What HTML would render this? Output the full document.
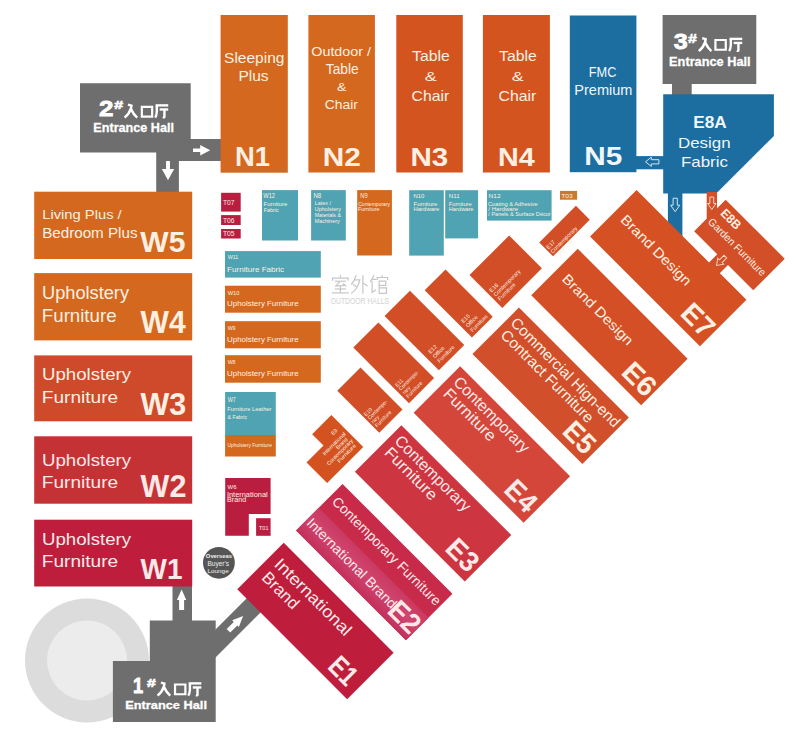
<!DOCTYPE html><html><head><meta charset="utf-8"><style>html,body{margin:0;padding:0;background:#fff;}svg{display:block;}text{font-family:"Liberation Sans",sans-serif;}</style></head><body>
<svg width="797" height="734" viewBox="0 0 797 734">
<rect width="797" height="734" fill="#ffffff"/>
<defs><linearGradient id="g2" x1="0" y1="0" x2="0" y2="1"><stop offset="0" stop-color="#cb3961"/><stop offset="0.45" stop-color="#d04570"/><stop offset="1" stop-color="#c3305a"/></linearGradient></defs>
<circle cx="87" cy="660.5" r="62" fill="#dcdcdc"/>
<circle cx="87" cy="660.5" r="40" fill="#ececec"/>
<polygon points="80,83.3 190.7,83.3 190.7,139 221,139 221,160.9 178.9,160.9 178.9,193 156.2,193 156.2,152.6 80,152.6" fill="#6e6e6e"/>
<polygon transform="translate(210.20,150.25) rotate(90)" points="0.00,0.00 5.15,10.00 1.65,10.00 1.65,17.20 -1.65,17.20 -1.65,10.00 -5.15,10.00" fill="#ffffff"/>
<polygon transform="translate(168.00,180.20) rotate(180)" points="0.00,0.00 6.15,11.10 1.95,11.10 1.95,19.20 -1.95,19.20 -1.95,11.10 -6.15,11.10" fill="#ffffff"/>
<text x="99.10" y="115.50" font-size="21.8" font-weight="bold" fill="#ffffff" text-anchor="start" textLength="14.44" lengthAdjust="spacingAndGlyphs" stroke="#ffffff" stroke-width="0.8">2</text>
<text x="114.33" y="108.80" font-size="11.77" font-weight="bold" fill="#ffffff" text-anchor="start" textLength="8.83" lengthAdjust="spacingAndGlyphs" stroke="#ffffff" stroke-width="0.6">#</text>
<g transform="translate(123.90,104.30) scale(0.1360)" fill="none" stroke="#ffffff" stroke-width="18.38" stroke-linecap="butt" stroke-linejoin="miter">
<path d="M30,2 L55,10 L52,30 Q40,70 5,98"/>
<path d="M52,35 Q70,75 98,98"/>
</g>
<g transform="translate(140.20,104.60) scale(0.1360)" fill="none" stroke="#ffffff" stroke-width="16.18" stroke-linecap="butt" stroke-linejoin="miter">
<path d="M12,16 L88,16 L88,88 L12,88 Z"/>
</g>
<g transform="translate(154.90,104.30) scale(0.1360)" fill="none" stroke="#ffffff" stroke-width="17.65" stroke-linecap="butt" stroke-linejoin="miter">
<path d="M5,8 L98,8"/>
<path d="M14,8 L14,55 Q12,85 2,98"/>
<path d="M35,38 L98,38"/>
<path d="M70,38 L70,92 Q70,98 58,94"/>
</g>
<text x="93.30" y="131.55" font-size="12.65" font-weight="bold" fill="#ffffff" text-anchor="start" textLength="80.74" lengthAdjust="spacingAndGlyphs" stroke="#ffffff" stroke-width="0.3">Entrance Hall</text>
<polygon points="662.6,14.9 756.3,14.9 756.3,83.9 691.7,83.9 691.7,95 672,95 672,83.9 662.6,83.9" fill="#6e6e6e"/>
<text x="673.82" y="49.10" font-size="22.82" font-weight="bold" fill="#ffffff" text-anchor="start" textLength="13.99" lengthAdjust="spacingAndGlyphs" stroke="#ffffff" stroke-width="0.8">3</text>
<text x="687.93" y="42.60" font-size="13.52" font-weight="bold" fill="#ffffff" text-anchor="start" textLength="8.83" lengthAdjust="spacingAndGlyphs" stroke="#ffffff" stroke-width="0.6">#</text>
<g transform="translate(698.10,37.80) scale(0.1360)" fill="none" stroke="#ffffff" stroke-width="18.38" stroke-linecap="butt" stroke-linejoin="miter">
<path d="M30,2 L55,10 L52,30 Q40,70 5,98"/>
<path d="M52,35 Q70,75 98,98"/>
</g>
<g transform="translate(713.80,37.80) scale(0.1360)" fill="none" stroke="#ffffff" stroke-width="16.18" stroke-linecap="butt" stroke-linejoin="miter">
<path d="M12,16 L88,16 L88,88 L12,88 Z"/>
</g>
<g transform="translate(728.90,37.80) scale(0.1360)" fill="none" stroke="#ffffff" stroke-width="17.65" stroke-linecap="butt" stroke-linejoin="miter">
<path d="M5,8 L98,8"/>
<path d="M14,8 L14,55 Q12,85 2,98"/>
<path d="M35,38 L98,38"/>
<path d="M70,38 L70,92 Q70,98 58,94"/>
</g>
<text x="669.10" y="65.85" font-size="13.08" font-weight="bold" fill="#ffffff" text-anchor="start" textLength="81.56" lengthAdjust="spacingAndGlyphs" stroke="#ffffff" stroke-width="0.3">Entrance Hall</text>
<polygon points="112.9,721.9 112.9,660.9 149.8,660.9 149.8,620.4 172.5,620.4 172.5,585 192,585 192,620.4 215.7,620.4 215.7,721.9" fill="#6e6e6e"/>
<polygon points="187.50,657.50 257.50,587.50 271.50,601.50 201.50,671.50" fill="#6e6e6e"/>
<polygon transform="translate(181.60,589.40) rotate(0)" points="0.00,0.00 4.70,10.70 2.50,10.70 2.50,20.70 -2.50,20.70 -2.50,10.70 -4.70,10.70" fill="#ffffff"/>
<polygon transform="translate(243.10,616.10) rotate(45)" points="0.00,0.00 4.70,10.70 2.50,10.70 2.50,20.70 -2.50,20.70 -2.50,10.70 -4.70,10.70" fill="#ffffff"/>
<text x="133.05" y="693.20" font-size="21.22" font-weight="bold" fill="#ffffff" text-anchor="start" textLength="10.16" lengthAdjust="spacingAndGlyphs" stroke="#ffffff" stroke-width="0.8">1</text>
<text x="146.93" y="687.00" font-size="11.77" font-weight="bold" fill="#ffffff" text-anchor="start" textLength="8.83" lengthAdjust="spacingAndGlyphs" stroke="#ffffff" stroke-width="0.6">#</text>
<g transform="translate(156.90,682.30) scale(0.1360)" fill="none" stroke="#ffffff" stroke-width="18.38" stroke-linecap="butt" stroke-linejoin="miter">
<path d="M30,2 L55,10 L52,30 Q40,70 5,98"/>
<path d="M52,35 Q70,75 98,98"/>
</g>
<g transform="translate(173.40,682.30) scale(0.1360)" fill="none" stroke="#ffffff" stroke-width="16.18" stroke-linecap="butt" stroke-linejoin="miter">
<path d="M12,16 L88,16 L88,88 L12,88 Z"/>
</g>
<g transform="translate(188.00,682.30) scale(0.1360)" fill="none" stroke="#ffffff" stroke-width="17.65" stroke-linecap="butt" stroke-linejoin="miter">
<path d="M5,8 L98,8"/>
<path d="M14,8 L14,55 Q12,85 2,98"/>
<path d="M35,38 L98,38"/>
<path d="M70,38 L70,92 Q70,98 58,94"/>
</g>
<text x="125.19" y="708.75" font-size="11.34" font-weight="bold" fill="#ffffff" text-anchor="start" textLength="81.76" lengthAdjust="spacingAndGlyphs" stroke="#ffffff" stroke-width="0.3">Entrance Hall</text>
<rect x="220.60" y="15.00" width="67.20" height="157.70" fill="#d4681e"/>
<text x="224.10" y="62.50" font-size="14.86" font-weight="normal" fill="#fdf0e2" text-anchor="start" textLength="60.3" lengthAdjust="spacingAndGlyphs">Sleeping</text>
<text x="238.42" y="81.10" font-size="15.14" font-weight="normal" fill="#fdf0e2" text-anchor="start" textLength="30.24" lengthAdjust="spacingAndGlyphs">Plus</text>
<text x="234.96" y="166.40" font-size="26.89" font-weight="bold" fill="#fdf0e2" text-anchor="start" textLength="35.1" lengthAdjust="spacingAndGlyphs">N1</text>
<rect x="308.40" y="15.00" width="66.50" height="157.50" fill="#d4681e"/>
<text x="311.32" y="56.10" font-size="13.23" font-weight="normal" fill="#fdf0e2" text-anchor="start" textLength="59.58" lengthAdjust="spacingAndGlyphs">Outdoor /</text>
<text x="325.80" y="73.70" font-size="13.95" font-weight="normal" fill="#fdf0e2" text-anchor="start" textLength="32.98" lengthAdjust="spacingAndGlyphs">Table</text>
<text x="337.00" y="91.20" font-size="11.63" font-weight="normal" fill="#fdf0e2" text-anchor="start" textLength="9.42" lengthAdjust="spacingAndGlyphs">&amp;</text>
<text x="324.80" y="108.90" font-size="13.23" font-weight="normal" fill="#fdf0e2" text-anchor="start" textLength="33.03" lengthAdjust="spacingAndGlyphs">Chair</text>
<text x="322.71" y="165.50" font-size="24.86" font-weight="bold" fill="#fdf0e2" text-anchor="start" textLength="38.09" lengthAdjust="spacingAndGlyphs">N2</text>
<rect x="396.30" y="15.00" width="66.50" height="157.50" fill="#d4541f"/>
<text x="412.06" y="60.50" font-size="15.26" font-weight="normal" fill="#fdf0e2" text-anchor="start" textLength="37.71" lengthAdjust="spacingAndGlyphs">Table</text>
<text x="424.87" y="81.20" font-size="13.23" font-weight="normal" fill="#fdf0e2" text-anchor="start" textLength="11.91" lengthAdjust="spacingAndGlyphs">&amp;</text>
<text x="411.60" y="101.20" font-size="14.54" font-weight="normal" fill="#fdf0e2" text-anchor="start" textLength="37.76" lengthAdjust="spacingAndGlyphs">Chair</text>
<text x="410.42" y="165.50" font-size="24.86" font-weight="bold" fill="#fdf0e2" text-anchor="start" textLength="37.74" lengthAdjust="spacingAndGlyphs">N3</text>
<rect x="482.90" y="15.00" width="67.00" height="157.50" fill="#d4541f"/>
<text x="499.06" y="60.50" font-size="15.26" font-weight="normal" fill="#fdf0e2" text-anchor="start" textLength="37.71" lengthAdjust="spacingAndGlyphs">Table</text>
<text x="511.87" y="81.20" font-size="13.23" font-weight="normal" fill="#fdf0e2" text-anchor="start" textLength="11.91" lengthAdjust="spacingAndGlyphs">&amp;</text>
<text x="498.60" y="101.20" font-size="14.54" font-weight="normal" fill="#fdf0e2" text-anchor="start" textLength="37.76" lengthAdjust="spacingAndGlyphs">Chair</text>
<text x="498.08" y="165.50" font-size="24.86" font-weight="bold" fill="#fdf0e2" text-anchor="start" textLength="36.78" lengthAdjust="spacingAndGlyphs">N4</text>
<rect x="569.80" y="15.50" width="66.60" height="156.70" fill="#1b6e9f"/>
<text x="588.75" y="76.70" font-size="13.81" font-weight="normal" fill="#f0f6fa" text-anchor="start" textLength="27.63" lengthAdjust="spacingAndGlyphs">FMC</text>
<text x="574.31" y="94.70" font-size="13.97" font-weight="normal" fill="#f0f6fa" text-anchor="start" textLength="58.15" lengthAdjust="spacingAndGlyphs">Premium</text>
<text x="584.21" y="164.90" font-size="25.29" font-weight="bold" fill="#f0f6fa" text-anchor="start" textLength="38.02" lengthAdjust="spacingAndGlyphs">N5</text>
<rect x="636.00" y="156.10" width="28.00" height="13.20" fill="#1b6e9f"/>
<polygon transform="translate(645.50,161.80) rotate(-90)" points="0.00,0.00 4.60,5.80 2.10,5.80 2.10,13.40 -2.10,13.40 -2.10,5.80 -4.60,5.80" fill="none" stroke="#cfe6f2" stroke-width="1.0"/>
<polygon points="663.2,94.3 773.9,94.3 773.9,135.9 716.2,193.4 663.2,193.4" fill="#1b6e9f"/>
<text x="693.25" y="128.10" font-size="17.15" font-weight="bold" fill="#f0f6fa" text-anchor="start" textLength="33.4" lengthAdjust="spacingAndGlyphs">E8A</text>
<text x="677.91" y="147.70" font-size="14.58" font-weight="normal" fill="#f0f6fa" text-anchor="start" textLength="52.69" lengthAdjust="spacingAndGlyphs">Design</text>
<text x="680.91" y="166.50" font-size="15.0" font-weight="normal" fill="#f0f6fa" text-anchor="start" textLength="47.04" lengthAdjust="spacingAndGlyphs">Fabric</text>
<rect x="667.90" y="192.00" width="14.50" height="48.00" fill="#1b6e9f"/>
<polygon transform="translate(675.20,211.70) rotate(180)" points="0.00,0.00 4.60,6.50 2.10,6.50 2.10,13.50 -2.10,13.50 -2.10,6.50 -4.60,6.50" fill="none" stroke="#cfe6f2" stroke-width="1.0"/>
<rect x="706.70" y="192.00" width="10.30" height="30.00" fill="#d24f27"/>
<polygon transform="translate(711.80,209.50) rotate(180)" points="0.00,0.00 4.20,6.00 1.90,6.00 1.90,12.50 -1.90,12.50 -1.90,6.00 -4.20,6.00" fill="none" stroke="#f6d5c0" stroke-width="1.0"/>
<rect x="34.20" y="191.70" width="158.00" height="67.30" fill="#d4681e"/>
<text x="42.19" y="219.10" font-size="13.52" font-weight="normal" fill="#fdf0e2" text-anchor="start" textLength="79.51" lengthAdjust="spacingAndGlyphs">Living Plus /</text>
<text x="42.15" y="237.80" font-size="14.51" font-weight="normal" fill="#fdf0e2" text-anchor="start" textLength="95.39" lengthAdjust="spacingAndGlyphs">Bedroom Plus</text>
<text x="140.37" y="252.20" font-size="29.8" font-weight="bold" fill="#fdf0e2" text-anchor="start" textLength="45.07" lengthAdjust="spacingAndGlyphs">W5</text>
<rect x="34.20" y="273.10" width="158.00" height="67.30" fill="#d4681e"/>
<text x="42.00" y="299.10" font-size="18.19" font-weight="normal" fill="#fdf0e2" text-anchor="start" textLength="87.04" lengthAdjust="spacingAndGlyphs">Upholstery</text>
<text x="41.87" y="322.20" font-size="18.19" font-weight="normal" fill="#fdf0e2" text-anchor="start" textLength="74.66" lengthAdjust="spacingAndGlyphs">Furniture</text>
<text x="140.57" y="333.20" font-size="30.67" font-weight="bold" fill="#fdf0e2" text-anchor="start" textLength="45.19" lengthAdjust="spacingAndGlyphs">W4</text>
<rect x="34.20" y="355.40" width="158.00" height="65.90" fill="#ce4a2b"/>
<text x="41.96" y="380.10" font-size="17.36" font-weight="normal" fill="#fdf0e2" text-anchor="start" textLength="89.07" lengthAdjust="spacingAndGlyphs">Upholstery</text>
<text x="41.84" y="402.80" font-size="17.36" font-weight="normal" fill="#fdf0e2" text-anchor="start" textLength="76.31" lengthAdjust="spacingAndGlyphs">Furniture</text>
<text x="140.57" y="414.60" font-size="31.25" font-weight="bold" fill="#fdf0e2" text-anchor="start" textLength="45.73" lengthAdjust="spacingAndGlyphs">W3</text>
<rect x="34.20" y="436.30" width="158.00" height="67.40" fill="#c53235"/>
<text x="41.96" y="465.50" font-size="16.11" font-weight="normal" fill="#fde9e8" text-anchor="start" textLength="89.07" lengthAdjust="spacingAndGlyphs">Upholstery</text>
<text x="41.84" y="488.00" font-size="16.11" font-weight="normal" fill="#fde9e8" text-anchor="start" textLength="76.31" lengthAdjust="spacingAndGlyphs">Furniture</text>
<text x="140.57" y="496.80" font-size="31.54" font-weight="bold" fill="#fde9e8" text-anchor="start" textLength="45.85" lengthAdjust="spacingAndGlyphs">W2</text>
<rect x="34.20" y="519.70" width="158.00" height="66.80" fill="#be1e3c"/>
<text x="41.96" y="544.60" font-size="16.11" font-weight="normal" fill="#fde9e8" text-anchor="start" textLength="89.07" lengthAdjust="spacingAndGlyphs">Upholstery</text>
<text x="41.84" y="567.10" font-size="16.11" font-weight="normal" fill="#fde9e8" text-anchor="start" textLength="76.31" lengthAdjust="spacingAndGlyphs">Furniture</text>
<text x="140.57" y="578.90" font-size="30.23" font-weight="bold" fill="#fde9e8" text-anchor="start" textLength="41.9" lengthAdjust="spacingAndGlyphs">W1</text>
<rect x="221.10" y="192.80" width="19.60" height="18.80" fill="#b91e40"/>
<text x="222.95" y="205.30" font-size="7.12" font-weight="normal" fill="#fdf0e2" text-anchor="start" textLength="11.59" lengthAdjust="spacingAndGlyphs">T07</text>
<rect x="221.10" y="215.10" width="19.60" height="9.90" fill="#b91e40"/>
<text x="222.95" y="222.80" font-size="6.83" font-weight="normal" fill="#fdf0e2" text-anchor="start" textLength="11.54" lengthAdjust="spacingAndGlyphs">T06</text>
<rect x="221.10" y="229.00" width="19.60" height="9.50" fill="#b91e40"/>
<text x="222.95" y="236.40" font-size="7.12" font-weight="normal" fill="#fdf0e2" text-anchor="start" textLength="11.53" lengthAdjust="spacingAndGlyphs">T05</text>
<rect x="262.00" y="190.10" width="36.00" height="50.40" fill="#50a3b3"/>
<text x="263.27" y="198.20" font-size="6.4" font-weight="normal" fill="#fdf0e2" text-anchor="start" textLength="11.71" lengthAdjust="spacingAndGlyphs">W12</text>
<text x="263.62" y="206.10" font-size="5.96" font-weight="normal" fill="#fdf0e2" text-anchor="start" textLength="23.65" lengthAdjust="spacingAndGlyphs">Furniture</text>
<text x="263.65" y="211.90" font-size="5.96" font-weight="normal" fill="#fdf0e2" text-anchor="start" textLength="15.19" lengthAdjust="spacingAndGlyphs">Fabric</text>
<rect x="311.10" y="190.10" width="34.70" height="50.40" fill="#50a3b3"/>
<text x="313.40" y="198.20" font-size="6.4" font-weight="normal" fill="#fdf0e2" text-anchor="start" textLength="7.76" lengthAdjust="spacingAndGlyphs">N8</text>
<text x="314.66" y="204.70" font-size="5.09" font-weight="normal" fill="#fdf0e2" text-anchor="start" textLength="16.24" lengthAdjust="spacingAndGlyphs">Latex /</text>
<text x="314.68" y="210.50" font-size="5.09" font-weight="normal" fill="#fdf0e2" text-anchor="start" textLength="26.23" lengthAdjust="spacingAndGlyphs">Upholstery</text>
<text x="314.67" y="216.60" font-size="5.52" font-weight="normal" fill="#fdf0e2" text-anchor="start" textLength="26.31" lengthAdjust="spacingAndGlyphs">Materials &amp;</text>
<text x="314.65" y="222.80" font-size="5.09" font-weight="normal" fill="#fdf0e2" text-anchor="start" textLength="25.06" lengthAdjust="spacingAndGlyphs">Machinery</text>
<rect x="357.20" y="190.10" width="34.70" height="65.40" fill="#d4681e"/>
<text x="360.34" y="198.20" font-size="6.4" font-weight="normal" fill="#fdf0e2" text-anchor="start" textLength="7.23" lengthAdjust="spacingAndGlyphs">N9</text>
<text x="358.24" y="205.70" font-size="4.51" font-weight="normal" fill="#fdf0e2" text-anchor="start" textLength="31.87" lengthAdjust="spacingAndGlyphs">Contemporary</text>
<text x="358.06" y="211.00" font-size="4.65" font-weight="normal" fill="#fdf0e2" text-anchor="start" textLength="21.38" lengthAdjust="spacingAndGlyphs">Furniture</text>
<rect x="409.20" y="190.20" width="34.60" height="65.40" fill="#50a3b3"/>
<text x="413.52" y="197.80" font-size="5.23" font-weight="normal" fill="#fdf0e2" text-anchor="start" textLength="10.81" lengthAdjust="spacingAndGlyphs">N10</text>
<text x="413.51" y="205.60" font-size="4.8" font-weight="normal" fill="#fdf0e2" text-anchor="start" textLength="23.85" lengthAdjust="spacingAndGlyphs">Furniture</text>
<text x="413.51" y="210.90" font-size="5.23" font-weight="normal" fill="#fdf0e2" text-anchor="start" textLength="25.85" lengthAdjust="spacingAndGlyphs">Hardware</text>
<rect x="445.20" y="190.20" width="32.90" height="48.20" fill="#50a3b3"/>
<text x="448.71" y="197.80" font-size="5.23" font-weight="normal" fill="#fdf0e2" text-anchor="start" textLength="10.88" lengthAdjust="spacingAndGlyphs">N11</text>
<text x="448.73" y="205.60" font-size="4.8" font-weight="normal" fill="#fdf0e2" text-anchor="start" textLength="23.03" lengthAdjust="spacingAndGlyphs">Furniture</text>
<text x="448.73" y="210.90" font-size="5.23" font-weight="normal" fill="#fdf0e2" text-anchor="start" textLength="24.82" lengthAdjust="spacingAndGlyphs">Hardware</text>
<rect x="487.00" y="190.20" width="64.60" height="30.40" fill="#50a3b3"/>
<text x="488.56" y="198.10" font-size="6.25" font-weight="normal" fill="#fdf0e2" text-anchor="start" textLength="12.18" lengthAdjust="spacingAndGlyphs">N12</text>
<text x="488.01" y="205.80" font-size="5.09" font-weight="normal" fill="#fdf0e2" text-anchor="start" textLength="49.74" lengthAdjust="spacingAndGlyphs">Coating &amp; Adhesive</text>
<text x="488.30" y="210.60" font-size="5.09" font-weight="normal" fill="#fdf0e2" text-anchor="start" textLength="29.87" lengthAdjust="spacingAndGlyphs">/ Hardware</text>
<text x="488.30" y="215.60" font-size="5.09" font-weight="normal" fill="#fdf0e2" text-anchor="start" textLength="62.39" lengthAdjust="spacingAndGlyphs">/ Panels &amp; Surface Décor</text>
<rect x="560.00" y="190.90" width="17.10" height="8.80" fill="#c97a2e"/>
<text x="561.15" y="197.90" font-size="6.1" font-weight="normal" fill="#fdf0e2" text-anchor="start" textLength="11.44" lengthAdjust="spacingAndGlyphs">T03</text>
<rect x="225.00" y="251.10" width="95.80" height="26.50" fill="#50a3b3"/>
<text x="227.68" y="259.30" font-size="5.52" font-weight="normal" fill="#fdf0e2" text-anchor="start" textLength="10.57" lengthAdjust="spacingAndGlyphs">W11</text>
<text x="227.06" y="271.90" font-size="7.7" font-weight="normal" fill="#fdf0e2" text-anchor="start" textLength="57.04" lengthAdjust="spacingAndGlyphs">Furniture  Fabric</text>
<rect x="225.00" y="285.70" width="95.80" height="27.00" fill="#d4681e"/>
<text x="227.68" y="294.70" font-size="5.23" font-weight="normal" fill="#fdf0e2" text-anchor="start" textLength="11.65" lengthAdjust="spacingAndGlyphs">W10</text>
<text x="227.09" y="306.20" font-size="7.7" font-weight="normal" fill="#fdf0e2" text-anchor="start" textLength="71.56" lengthAdjust="spacingAndGlyphs">Upholstery Furniture</text>
<rect x="225.00" y="321.20" width="95.80" height="27.10" fill="#d4681e"/>
<text x="227.68" y="330.20" font-size="5.23" font-weight="normal" fill="#fdf0e2" text-anchor="start" textLength="7.87" lengthAdjust="spacingAndGlyphs">W9</text>
<text x="227.09" y="341.70" font-size="7.7" font-weight="normal" fill="#fdf0e2" text-anchor="start" textLength="71.56" lengthAdjust="spacingAndGlyphs">Upholstery Furniture</text>
<rect x="225.00" y="355.20" width="95.80" height="27.50" fill="#d4681e"/>
<text x="227.68" y="364.20" font-size="5.23" font-weight="normal" fill="#fdf0e2" text-anchor="start" textLength="7.85" lengthAdjust="spacingAndGlyphs">W8</text>
<text x="227.09" y="375.70" font-size="7.7" font-weight="normal" fill="#fdf0e2" text-anchor="start" textLength="71.56" lengthAdjust="spacingAndGlyphs">Upholstery Furniture</text>
<rect x="225.10" y="392.00" width="50.70" height="43.00" fill="#50a3b3"/>
<rect x="225.10" y="435.00" width="50.70" height="21.50" fill="#d4681e"/>
<text x="227.78" y="401.80" font-size="6.54" font-weight="normal" fill="#fdf0e2" text-anchor="start" textLength="8.1" lengthAdjust="spacingAndGlyphs">W7</text>
<text x="227.33" y="410.90" font-size="5.96" font-weight="normal" fill="#fdf0e2" text-anchor="start" textLength="44.17" lengthAdjust="spacingAndGlyphs">Furniture Leather</text>
<text x="227.62" y="418.80" font-size="5.96" font-weight="normal" fill="#fdf0e2" text-anchor="start" textLength="19.42" lengthAdjust="spacingAndGlyphs">&amp; Fabric</text>
<text x="227.42" y="447.00" font-size="5.09" font-weight="normal" fill="#fdf0e2" text-anchor="start" textLength="44.5" lengthAdjust="spacingAndGlyphs">Upholstery Furniture</text>
<polygon points="225.2,478.1 270.6,478.1 270.6,513.9 248.8,513.9 248.8,535.8 225.2,535.8" fill="#b91e40"/>
<rect x="256.10" y="518.20" width="14.50" height="17.60" fill="#b91e40"/>
<text x="227.57" y="488.60" font-size="5.52" font-weight="normal" fill="#fdf0e2" text-anchor="start" textLength="8.89" lengthAdjust="spacingAndGlyphs">W6</text>
<text x="226.92" y="496.70" font-size="6.69" font-weight="normal" fill="#fdf0e2" text-anchor="start" textLength="40.78" lengthAdjust="spacingAndGlyphs">International</text>
<text x="227.01" y="502.40" font-size="6.54" font-weight="normal" fill="#fdf0e2" text-anchor="start" textLength="19.26" lengthAdjust="spacingAndGlyphs">Brand</text>
<text x="258.98" y="529.60" font-size="5.52" font-weight="normal" fill="#fdf0e2" text-anchor="start" textLength="9.49" lengthAdjust="spacingAndGlyphs">T01</text>
<circle cx="218.9" cy="562.8" r="15.9" fill="#555555"/>
<text x="205.86" y="557.90" font-size="5.52" font-weight="bold" fill="#f0f0f0" text-anchor="start" textLength="26.18" lengthAdjust="spacingAndGlyphs">Overseas</text>
<text x="207.47" y="565.80" font-size="6.54" font-weight="normal" fill="#f0f0f0" text-anchor="start" textLength="21.47" lengthAdjust="spacingAndGlyphs">Buyer's</text>
<text x="207.48" y="573.00" font-size="6.25" font-weight="normal" fill="#f0f0f0" text-anchor="start" textLength="21.2" lengthAdjust="spacingAndGlyphs">Lounge</text>
<g transform="translate(331.10,275.30) scale(0.1850)" fill="none" stroke="#c6c6c6" stroke-width="6.49" stroke-linecap="butt" stroke-linejoin="miter">
<path d="M50,0 L50,12"/>
<path d="M8,30 L8,15 L92,15 L92,30"/>
<path d="M20,32 L80,32"/>
<path d="M48,34 L25,58 L80,54"/>
<path d="M62,44 L82,60"/>
<path d="M50,58 L50,95"/>
<path d="M20,74 L80,74"/>
<path d="M5,95 L95,95"/>
</g>
<g transform="translate(350.30,275.30) scale(0.1850)" fill="none" stroke="#c6c6c6" stroke-width="6.49" stroke-linecap="butt" stroke-linejoin="miter">
<path d="M32,0 Q22,30 5,50"/>
<path d="M22,25 L52,25 Q40,75 5,98"/>
<path d="M14,48 L34,62"/>
<path d="M68,0 L68,100"/>
<path d="M68,42 L94,58"/>
</g>
<g transform="translate(369.50,275.30) scale(0.1850)" fill="none" stroke="#c6c6c6" stroke-width="6.49" stroke-linecap="butt" stroke-linejoin="miter">
<path d="M24,0 Q15,22 3,35"/>
<path d="M14,22 L38,22"/>
<path d="M14,30 L14,92 L36,78"/>
<path d="M68,0 L68,10"/>
<path d="M42,26 L42,12 L98,12 L98,26"/>
<path d="M52,30 L52,100"/>
<path d="M52,32 L88,32 L88,55 L52,55"/>
<path d="M52,68 L92,68 L92,98 L52,98"/>
</g>
<text x="330.68" y="303.80" font-size="8.29" font-weight="normal" fill="#d2d2d2" text-anchor="start" textLength="58.34" lengthAdjust="spacingAndGlyphs">OUTDOOR HALLS</text>
<polygon points="708.75,262.75 717.75,253.75 728.50,264.50 719.50,273.50" fill="#d24f27"/>
<g transform="translate(283.75,542.75) rotate(45)">
<rect x="0" y="0" width="155.42" height="65.76" fill="#bf1d3c"/>
</g>
<g transform="translate(283.75,542.75) rotate(45)">
<text x="8.50" y="23.20" font-size="16.72" font-weight="normal" fill="#fde9e8" text-anchor="start" textLength="101.33" lengthAdjust="spacingAndGlyphs">International</text>
</g>
<g transform="translate(283.75,542.75) rotate(45)">
<text x="9.02" y="41.50" font-size="16.72" font-weight="normal" fill="#fde9e8" text-anchor="start" textLength="44.97" lengthAdjust="spacingAndGlyphs">Brand</text>
</g>
<g transform="translate(283.75,542.75) rotate(45)">
<text x="118.47" y="58.20" font-size="28.49" font-weight="bold" fill="#fde9e8" text-anchor="start" textLength="27.97" lengthAdjust="spacingAndGlyphs">E1</text>
</g>
<g transform="translate(342.55,483.95) rotate(45)">
<rect x="0" y="0" width="155.42" height="65.76" fill="#c82b4a"/>
<rect x="0" y="33.66" width="155.42" height="32.10" fill="url(#g2)"/>
</g>
<g transform="translate(342.55,483.95) rotate(45)">
<text x="5.20" y="21.00" font-size="13.95" font-weight="normal" fill="#fde9e8" text-anchor="start" textLength="147.02" lengthAdjust="spacingAndGlyphs">Contemporary Furniture</text>
</g>
<g transform="translate(342.55,483.95) rotate(45)">
<text x="2.08" y="54.30" font-size="13.95" font-weight="normal" fill="#fde9e8" text-anchor="start" textLength="121.05" lengthAdjust="spacingAndGlyphs">International Brand</text>
</g>
<g transform="translate(342.55,483.95) rotate(45)">
<text x="121.18" y="59.75" font-size="28.49" font-weight="bold" fill="#fde9e8" text-anchor="start" textLength="33.2" lengthAdjust="spacingAndGlyphs">E2</text>
</g>
<g transform="translate(401.35,425.15) rotate(45)">
<rect x="0" y="0" width="155.42" height="65.76" fill="#cd3541"/>
</g>
<g transform="translate(401.35,425.15) rotate(45)">
<text x="6.30" y="17.20" font-size="15.99" font-weight="normal" fill="#fde9e8" text-anchor="start" textLength="100.23" lengthAdjust="spacingAndGlyphs">Contemporary</text>
</g>
<g transform="translate(401.35,425.15) rotate(45)">
<text x="7.42" y="32.80" font-size="15.99" font-weight="normal" fill="#fde9e8" text-anchor="start" textLength="67.43" lengthAdjust="spacingAndGlyphs">Furniture</text>
</g>
<g transform="translate(401.35,425.15) rotate(45)">
<text x="118.15" y="58.20" font-size="28.49" font-weight="bold" fill="#fde9e8" text-anchor="start" textLength="33.85" lengthAdjust="spacingAndGlyphs">E3</text>
</g>
<g transform="translate(460.15,366.35) rotate(45)">
<rect x="0" y="0" width="155.42" height="65.76" fill="#d4453a"/>
</g>
<g transform="translate(460.15,366.35) rotate(45)">
<text x="6.30" y="17.20" font-size="15.99" font-weight="normal" fill="#fde9e8" text-anchor="start" textLength="100.23" lengthAdjust="spacingAndGlyphs">Contemporary</text>
</g>
<g transform="translate(460.15,366.35) rotate(45)">
<text x="7.42" y="32.80" font-size="15.99" font-weight="normal" fill="#fde9e8" text-anchor="start" textLength="67.43" lengthAdjust="spacingAndGlyphs">Furniture</text>
</g>
<g transform="translate(460.15,366.35) rotate(45)">
<text x="118.20" y="58.20" font-size="28.49" font-weight="bold" fill="#fde9e8" text-anchor="start" textLength="32.95" lengthAdjust="spacingAndGlyphs">E4</text>
</g>
<g transform="translate(518.95,307.55) rotate(45)">
<rect x="0" y="0" width="155.42" height="65.76" fill="#d24f2c"/>
</g>
<g transform="translate(518.95,307.55) rotate(45)">
<text x="4.92" y="18.10" font-size="15.26" font-weight="normal" fill="#fdf0e2" text-anchor="start" textLength="147.76" lengthAdjust="spacingAndGlyphs">Commercial Hign-end</text>
</g>
<g transform="translate(518.95,307.55) rotate(45)">
<text x="6.52" y="33.60" font-size="15.26" font-weight="normal" fill="#fdf0e2" text-anchor="start" textLength="124.27" lengthAdjust="spacingAndGlyphs">Contract Furniture</text>
</g>
<g transform="translate(518.95,307.55) rotate(45)">
<text x="118.20" y="58.70" font-size="28.49" font-weight="bold" fill="#fdf0e2" text-anchor="start" textLength="32.84" lengthAdjust="spacingAndGlyphs">E5</text>
</g>
<g transform="translate(577.75,248.75) rotate(45)">
<rect x="0" y="0" width="155.42" height="65.76" fill="#d44f25"/>
</g>
<g transform="translate(577.75,248.75) rotate(45)">
<text x="10.13" y="33.60" font-size="13.95" font-weight="normal" fill="#fdf0e2" text-anchor="start" textLength="93.98" lengthAdjust="spacingAndGlyphs">Brand Design</text>
</g>
<g transform="translate(577.75,248.75) rotate(45)">
<text x="118.07" y="58.20" font-size="28.49" font-weight="bold" fill="#fdf0e2" text-anchor="start" textLength="35.27" lengthAdjust="spacingAndGlyphs">E6</text>
</g>
<g transform="translate(636.55,189.95) rotate(45)">
<rect x="0" y="0" width="155.42" height="65.76" fill="#d55023"/>
</g>
<g transform="translate(636.55,189.95) rotate(45)">
<text x="9.74" y="33.60" font-size="13.95" font-weight="normal" fill="#fdf0e2" text-anchor="start" textLength="93.36" lengthAdjust="spacingAndGlyphs">Brand Design</text>
</g>
<g transform="translate(636.55,189.95) rotate(45)">
<text x="118.10" y="58.20" font-size="28.49" font-weight="bold" fill="#fdf0e2" text-anchor="start" textLength="34.75" lengthAdjust="spacingAndGlyphs">E7</text>
</g>
<g transform="translate(725.65,199.65) rotate(45)">
<rect x="0" y="0" width="83.58" height="44.55" fill="#d24f27"/>
</g>
<g transform="translate(725.65,199.65) rotate(45)">
<text x="5.96" y="14.40" font-size="12.65" font-weight="bold" fill="#fdf0e2" text-anchor="start" textLength="22.98" lengthAdjust="spacingAndGlyphs">E8B</text>
<text x="3.19" y="29.10" font-size="10.61" font-weight="normal" fill="#fdf0e2" text-anchor="start" textLength="76.86" lengthAdjust="spacingAndGlyphs">Garden Furniture</text>
</g>
<polygon transform="translate(716.50,265.50) rotate(225)" points="0.00,0.00 4.20,6.00 1.90,6.00 1.90,12.50 -1.90,12.50 -1.90,6.00 -4.20,6.00" fill="none" stroke="#f6d5c0" stroke-width="1.0"/>
<g transform="translate(360.50,367.50) rotate(45)">
<rect x="0" y="0" width="59.40" height="32.88" fill="#d24e26"/>
</g>
<g transform="translate(365.97,416.40) rotate(-45)">
<text x="0.00" y="0.00" font-size="5.2" font-weight="normal" fill="#fdf0e2" text-anchor="start">E10</text>
<text x="0.00" y="5.20" font-size="5.2" font-weight="normal" fill="#fdf0e2" text-anchor="start">Contempo-</text>
<text x="0.00" y="10.40" font-size="5.2" font-weight="normal" fill="#fdf0e2" text-anchor="start">rary</text>
<text x="0.00" y="15.60" font-size="5.2" font-weight="normal" fill="#fdf0e2" text-anchor="start">Furniture</text>
</g>
<g transform="translate(378.40,322.40) rotate(45)">
<rect x="0" y="0" width="78.77" height="35.50" fill="#d24e26"/>
</g>
<g transform="translate(397.17,387.20) rotate(-45)">
<text x="0.00" y="0.00" font-size="5.2" font-weight="normal" fill="#fdf0e2" text-anchor="start">E11</text>
<text x="0.00" y="5.20" font-size="5.2" font-weight="normal" fill="#fdf0e2" text-anchor="start">Contempo-</text>
<text x="0.00" y="10.40" font-size="5.2" font-weight="normal" fill="#fdf0e2" text-anchor="start">rary</text>
<text x="0.00" y="15.60" font-size="5.2" font-weight="normal" fill="#fdf0e2" text-anchor="start">Furniture</text>
</g>
<g transform="translate(409.95,290.65) rotate(45)">
<rect x="0" y="0" width="76.79" height="35.92" fill="#d24e26"/>
</g>
<g transform="translate(430.38,354.03) rotate(-45)">
<text x="0.00" y="0.00" font-size="5.5" font-weight="normal" fill="#fdf0e2" text-anchor="start">E12</text>
<text x="0.00" y="6.40" font-size="5.5" font-weight="normal" fill="#fdf0e2" text-anchor="start">Office</text>
<text x="0.00" y="12.80" font-size="5.5" font-weight="normal" fill="#fdf0e2" text-anchor="start">Furniture</text>
</g>
<g transform="translate(445.50,269.50) rotate(45)">
<rect x="0" y="0" width="66.82" height="29.42" fill="#d24e26"/>
</g>
<g transform="translate(463.48,323.23) rotate(-45)">
<text x="0.00" y="0.00" font-size="5.5" font-weight="normal" fill="#fdf0e2" text-anchor="start">E15</text>
<text x="0.00" y="6.40" font-size="5.5" font-weight="normal" fill="#fdf0e2" text-anchor="start">Office</text>
<text x="0.00" y="12.80" font-size="5.5" font-weight="normal" fill="#fdf0e2" text-anchor="start">Furniture</text>
</g>
<g transform="translate(509.10,235.50) rotate(45)">
<rect x="0" y="0" width="46.39" height="56.00" fill="#d24e26"/>
</g>
<g transform="translate(491.60,292.50) rotate(-45)">
<text x="0.00" y="0.00" font-size="5.6" font-weight="normal" fill="#fdf0e2" text-anchor="start">E16</text>
<text x="0.00" y="6.00" font-size="5.6" font-weight="normal" fill="#fdf0e2" text-anchor="start">Contemporary</text>
<text x="0.00" y="12.00" font-size="5.6" font-weight="normal" fill="#fdf0e2" text-anchor="start">Furniture</text>
</g>
<g transform="translate(575.95,205.85) rotate(45)">
<rect x="0" y="0" width="19.52" height="51.90" fill="#d24e26"/>
</g>
<g transform="translate(548.50,249.50) rotate(-45)">
<text x="0.00" y="0.00" font-size="5.6" font-weight="normal" fill="#fdf0e2" text-anchor="start">E17</text>
<text x="0.00" y="6.00" font-size="5.6" font-weight="normal" fill="#fdf0e2" text-anchor="start">Contemporary</text>
<text x="0.00" y="12.00" font-size="5.6" font-weight="normal" fill="#fdf0e2" text-anchor="start">Furniture</text>
</g>
<polygon points="312.15,434.15 331.30,415.00 363.25,446.95 327.10,483.10 306.50,462.50 323.50,445.50" fill="#d4521f"/>
<text transform="translate(335.52,433.10) rotate(-45)" x="0" y="0" font-size="5.4" fill="#fdf0e2" text-anchor="middle">E9</text>
<text transform="translate(335.45,445.05) rotate(-45)" x="0" y="0" font-size="5.4" fill="#fdf0e2" text-anchor="middle" textLength="30.5" lengthAdjust="spacingAndGlyphs">International</text>
<text transform="translate(343.02,444.84) rotate(-45)" x="0" y="0" font-size="5.4" fill="#fdf0e2" text-anchor="middle" textLength="14" lengthAdjust="spacingAndGlyphs">Brand</text>
<text transform="translate(341.18,453.61) rotate(-45)" x="0" y="0" font-size="5.4" fill="#fdf0e2" text-anchor="middle" textLength="34.5" lengthAdjust="spacingAndGlyphs">Contemporary</text>
<text transform="translate(347.90,454.67) rotate(-45)" x="0" y="0" font-size="5.4" fill="#fdf0e2" text-anchor="middle" textLength="24" lengthAdjust="spacingAndGlyphs">Furniture</text>
</svg></body></html>
